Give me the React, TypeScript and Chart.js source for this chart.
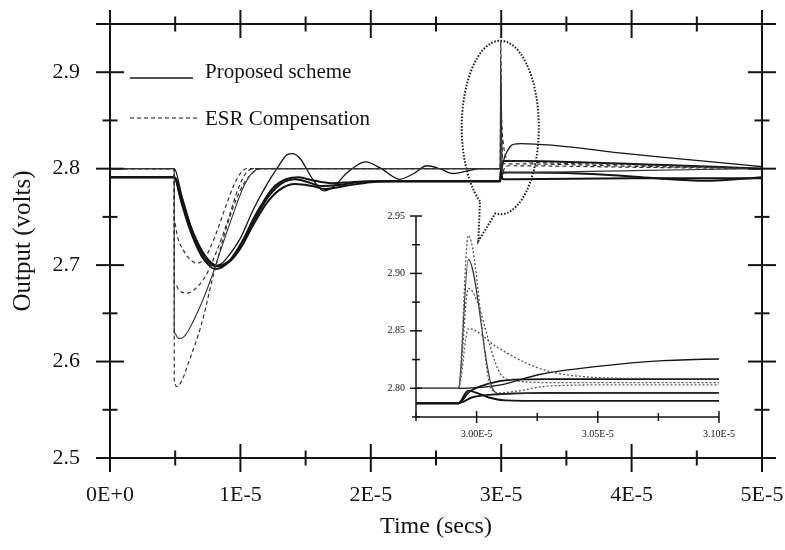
import React, { useEffect, useRef } from 'react';
import { Chart, registerables } from 'chart.js';

Chart.register(...registerables);

const SERIF = "'Liberation Serif', 'Times New Roman', 'DejaVu Serif', serif";
const INK = '#141414';

// ---- data: time in units of 1E-5 s, output in volts ----
const TIME_UNIT = 1e-5;

// Proposed scheme (solid)
const PROPOSED_OSC = [
  [0, 2.8], [0.4925, 2.8], [0.55, 2.772], [0.6, 2.748], [0.65, 2.728], [0.7, 2.713], [0.75, 2.703],
  [0.8, 2.699], [0.85, 2.701], [0.9, 2.708], [1.0, 2.728], [1.1, 2.758], [1.2, 2.783], [1.28, 2.8],
  [1.36, 2.8145], [1.4, 2.8155], [1.46, 2.81], [1.55, 2.79], [1.64, 2.777], [1.72, 2.782], [1.82, 2.796],
  [1.96, 2.807], [2.08, 2.8], [2.22, 2.789], [2.33, 2.795], [2.43, 2.803], [2.53, 2.8], [2.63, 2.795],
  [2.75, 2.798], [2.84, 2.8], [2.9925, 2.8], [3.0, 2.8005], [3.01, 2.803], [3.026, 2.812], [3.05, 2.819],
  [3.077, 2.824], [3.1, 2.8255], [3.15, 2.826], [4.0, 2.815], [4.7, 2.806], [5.0, 2.802],
];
const PROPOSED_A = [
  [0, 2.791], [0.4925, 2.791], [0.55, 2.764], [0.6, 2.742], [0.65, 2.724], [0.7, 2.71], [0.75, 2.701],
  [0.806, 2.696], [0.86, 2.698], [0.92, 2.705], [1.02, 2.726], [1.1, 2.748], [1.15, 2.76], [1.25, 2.78],
  [1.35, 2.789], [1.45, 2.791], [1.55, 2.788], [1.7, 2.785], [1.85, 2.786], [2.0, 2.787], [2.9925, 2.787],
  [2.9965, 2.798], [3.0, 2.796], [3.005, 2.792], [3.012, 2.7895], [3.03, 2.789], [3.1, 2.789],
  [4.0, 2.79], [5.0, 2.79],
];
const PROPOSED_B = [
  [0, 2.791], [0.4925, 2.791], [0.56, 2.766], [0.62, 2.74], [0.7, 2.716], [0.78, 2.702], [0.84, 2.699],
  [0.92, 2.704], [1.02, 2.722], [1.12, 2.75], [1.22, 2.772], [1.32, 2.785], [1.42, 2.789], [1.52, 2.786],
  [1.62, 2.782], [1.75, 2.783], [1.9, 2.786], [2.1, 2.787], [2.9925, 2.787], [2.997, 2.797], [3.005, 2.804],
  [3.015, 2.8075], [3.03, 2.808], [3.1, 2.808], [3.4, 2.8075], [4.2, 2.804], [5.0, 2.8],
];
const PROPOSED_C = [
  [0, 2.791], [0.4925, 2.791], [0.54, 2.77], [0.6, 2.745], [0.68, 2.72], [0.76, 2.704], [0.82, 2.699],
  [0.9, 2.703], [1.0, 2.718], [1.1, 2.742], [1.2, 2.764], [1.3, 2.778], [1.42, 2.784], [1.55, 2.782],
  [1.65, 2.779], [1.8, 2.782], [2.0, 2.786], [2.2, 2.787], [2.9925, 2.787], [2.998, 2.792], [3.01, 2.795],
  [3.03, 2.796], [3.1, 2.796], [3.5, 2.7955], [4.0, 2.792], [4.3, 2.789], [4.58, 2.7875], [4.8, 2.789],
  [5.0, 2.791],
];

// ESR compensation
const ESR_DEEP = [
  [0, 2.8], [0.4925, 2.8], [0.4925, 2.578], [0.51, 2.574], [0.55, 2.58], [0.6, 2.598], [0.7, 2.638],
  [0.79, 2.688], [0.9, 2.742], [1.0, 2.778], [1.08, 2.794], [1.17, 2.8], [2.9925, 2.8], [2.9966, 2.933],
  [3.006, 2.8], [3.009, 2.796], [3.015, 2.797], [3.03, 2.802], [3.06, 2.803], [3.1, 2.803], [4.0, 2.8015],
  [5.0, 2.8],
];
const ESR_SOLID = [
  [0, 2.8], [0.4925, 2.8], [0.4925, 2.63], [0.525, 2.624], [0.56, 2.625], [0.6, 2.632], [0.7, 2.66],
  [0.77, 2.684], [0.85, 2.716], [0.95, 2.755], [1.03, 2.783], [1.1, 2.797], [1.15, 2.8], [2.9925, 2.8],
  [2.9966, 2.912], [3.0065, 2.8], [3.01, 2.795], [3.02, 2.7955], [3.05, 2.796], [3.1, 2.796], [4.0, 2.798],
  [5.0, 2.8],
];
const ESR_MID = [
  [0, 2.8], [0.4925, 2.8], [0.4925, 2.682], [0.53, 2.674], [0.59, 2.671], [0.65, 2.675], [0.73, 2.688],
  [0.82, 2.715], [0.9, 2.745], [0.98, 2.778], [1.04, 2.795], [1.1, 2.8], [2.9925, 2.8], [2.9966, 2.887],
  [3.0097, 2.813], [3.015, 2.807], [3.03, 2.805], [3.1, 2.805], [4.0, 2.8025], [5.0, 2.8],
];
const ESR_SHALLOW = [
  [0, 2.8], [0.4925, 2.8], [0.4925, 2.745], [0.52, 2.728], [0.5626, 2.7155], [0.6, 2.708], [0.665, 2.702],
  [0.72, 2.706], [0.8, 2.728], [0.88, 2.758], [0.95, 2.783], [1.0, 2.795], [1.05, 2.8], [2.9925, 2.8],
  [2.9966, 2.852], [3.0083, 2.836], [3.0207, 2.8217], [3.0304, 2.8145], [3.045, 2.81], [3.07, 2.8085],
  [3.1, 2.808], [4.0, 2.804], [5.0, 2.8],
];

const LEGEND_LABELS = ['Proposed scheme', 'ESR Compensation'];

// axes
const MAIN_X_TICKS = [0, 0.5, 1, 1.5, 2, 2.5, 3, 3.5, 4, 4.5, 5];
const MAIN_X_LABELS = ['0E+0', '', '1E-5', '', '2E-5', '', '3E-5', '', '4E-5', '', '5E-5'];
const MAIN_Y_TICKS = [2.5, 2.55, 2.6, 2.65, 2.7, 2.75, 2.8, 2.85, 2.9, 2.95];
const MAIN_Y_LABELS = ['2.5', '', '2.6', '', '2.7', '', '2.8', '', '2.9', ''];
const INSET_X_TICKS = [2.975, 3.0, 3.025, 3.05, 3.075, 3.1];
const INSET_X_LABELS = ['', '3.00E-5', '', '3.05E-5', '', '3.10E-5'];
const INSET_Y_TICKS = [2.775, 2.8, 2.825, 2.85, 2.875, 2.9, 2.925, 2.95];
const INSET_Y_LABELS = ['', '2.80', '', '2.85', '', '2.90', '', '2.95'];

// callout ellipse around the second load step (time in 1E-5 s, volts)
const CALLOUT_CENTER = [2.993, 2.8427];
const CALLOUT_RADII = [0.2955, 0.09];
const CALLOUT_TAIL = [[2.8396, 2.7672], [2.8243, 2.7248], [2.9547, 2.7538]];

const CURVES = [
  { label: 'ESR Compensation', pts: ESR_DEEP, style: 'dash' },
  { label: 'ESR Compensation', pts: ESR_MID, style: 'dash' },
  { label: 'ESR Compensation', pts: ESR_SHALLOW, style: 'dash' },
  { label: 'ESR Compensation', pts: ESR_SOLID, style: 'thinSolid' },
  { label: 'Proposed scheme', pts: PROPOSED_OSC, style: 'thin' },
  { label: 'Proposed scheme', pts: PROPOSED_C, style: 'thick' },
  { label: 'Proposed scheme', pts: PROPOSED_B, style: 'thick' },
  { label: 'Proposed scheme', pts: PROPOSED_A, style: 'thick' },
];

const toXY = (pts: number[][]) => pts.map(([t, v]) => ({ x: t * TIME_UNIT, y: v }));

function styleFor(style: string, inset: boolean) {
  if (style === 'dash') {
    return inset
      ? { borderColor: '#555', borderWidth: 1.3, borderDash: [2, 2] }
      : { borderColor: '#333', borderWidth: 1.2, borderDash: [4, 3] };
  }
  if (style === 'thinSolid') return { borderColor: '#333', borderWidth: 1.1, borderDash: [] };
  if (style === 'thin') return { borderColor: INK, borderWidth: 1.3, borderDash: [] };
  return { borderColor: INK, borderWidth: inset ? 1.9 : 2.0, borderDash: [] };
}

function buildDatasets(inset: boolean) {
  return CURVES.map((c) => ({
    label: c.label,
    data: toXY(c.pts),
    ...styleFor(c.style, inset),
    backgroundColor: 'transparent',
    pointRadius: 0,
    fill: false,
    cubicInterpolationMode: 'monotone' as const,
  }));
}

const framePlugin = {
  id: 'frame',
  afterDraw(chart: any, _args: any, opts: any) {
    const { ctx, chartArea: a, scales } = chart;
    const xs = scales.x;
    const ys = scales.y;
    const line = (x1: number, y1: number, x2: number, y2: number) => {
      ctx.beginPath();
      ctx.moveTo(x1, y1);
      ctx.lineTo(x2, y2);
      ctx.stroke();
    };
    ctx.save();
    ctx.strokeStyle = INK;
    ctx.lineWidth = opts.lineWidth;
    const e = opts.extend;
    const sides: string[] = opts.sides;
    if (sides.includes('left')) line(a.left, a.top - e, a.left, a.bottom + e);
    if (sides.includes('right')) line(a.right, a.top - e, a.right, a.bottom + e);
    if (sides.includes('bottom')) line(a.left - e, a.bottom, a.right + e, a.bottom);
    if (sides.includes('top')) line(a.left - e, a.top, a.right + e, a.top);
    ctx.lineWidth = opts.tickWidth;
    xs.ticks.forEach((t: any, i: number) => {
      const px = xs.getPixelForTick(i);
      const len = t.label ? opts.major : opts.minor;
      if (sides.includes('bottom')) line(px, a.bottom - len, px, a.bottom + len);
      if (sides.includes('top')) line(px, a.top - len, px, a.top + len);
    });
    ys.ticks.forEach((t: any, i: number) => {
      const py = ys.getPixelForTick(i);
      const len = t.label ? opts.major : opts.minor;
      if (sides.includes('left')) line(a.left - len, py, a.left + len, py);
      if (sides.includes('right')) line(a.right - len, py, a.right + len, py);
    });
    ctx.restore();
  },
};

const legendPlugin = {
  id: 'cornerLegend',
  afterDraw(chart: any, _args: any, opts: any) {
    const { ctx, chartArea: a } = chart;
    LEGEND_LABELS.forEach((label, i) => {
      const ds = chart.data.datasets.find((d: any) => d.label === label);
      if (!ds) return;
      const base = a.top + opts.baselines[i];
      ctx.save();
      ctx.strokeStyle = INK;
      ctx.lineWidth = ds.borderWidth;
      ctx.setLineDash(ds.borderDash || []);
      ctx.beginPath();
      ctx.moveTo(a.left + opts.lineStart, base + opts.lineOffsets[i]);
      ctx.lineTo(a.left + opts.lineEnds[i], base + opts.lineOffsets[i]);
      ctx.stroke();
      ctx.setLineDash([]);
      ctx.fillStyle = INK;
      ctx.font = `21px ${SERIF}`;
      ctx.textBaseline = 'alphabetic';
      ctx.textAlign = 'left';
      ctx.fillText(label, a.left + opts.textX, base);
      ctx.restore();
    });
  },
};

const calloutPlugin = {
  id: 'callout',
  afterDatasetsDraw(chart: any) {
    const { ctx, scales } = chart;
    const xs = scales.x;
    const ys = scales.y;
    const px = (t: number) => xs.getPixelForValue(t * TIME_UNIT);
    const py = (v: number) => ys.getPixelForValue(v);
    const cx = px(CALLOUT_CENTER[0]);
    const cy = py(CALLOUT_CENTER[1]);
    const rx = Math.abs(px(CALLOUT_CENTER[0] + CALLOUT_RADII[0]) - cx);
    const ry = Math.abs(py(CALLOUT_CENTER[1] + CALLOUT_RADII[1]) - cy);
    const ang = (p: number[]) => Math.atan2((py(p[1]) - cy) / ry, (px(p[0]) - cx) / rx);
    const [left, tip, right] = CALLOUT_TAIL;
    const a1 = ang(left);
    let a2 = ang(right);
    while (a2 <= a1) a2 += Math.PI * 2;
    ctx.save();
    ctx.strokeStyle = '#222';
    ctx.lineWidth = 2;
    ctx.setLineDash([1.6, 1.6]);
    ctx.beginPath();
    ctx.ellipse(cx, cy, rx, ry, 0, a1, a2, false);
    ctx.lineTo(px(tip[0]), py(tip[1]));
    ctx.lineTo(cx + rx * Math.cos(a1), cy + ry * Math.sin(a1));
    ctx.stroke();
    ctx.restore();
  },
};

function axisTicks(values: number[], labels: string[], scaleFactor: number) {
  return {
    afterBuildTicks: (s: any) => {
      s.ticks = values.map((v) => ({ value: v * scaleFactor }));
    },
    callback: (_v: any, i: number) => labels[i],
  };
}

const fitX = (h: number) => (s: any) => {
  s.height = h;
  s.paddingLeft = 0;
  s.paddingRight = 0;
};
const fitY = (w: number) => (s: any) => {
  s.width = w;
  s.paddingTop = 0;
  s.paddingBottom = 0;
};

export default function App() {
  const mainRef = useRef<HTMLCanvasElement>(null);
  const insetRef = useRef<HTMLCanvasElement>(null);

  useEffect(() => {
    const mx = axisTicks(MAIN_X_TICKS, MAIN_X_LABELS, TIME_UNIT);
    const my = axisTicks(MAIN_Y_TICKS, MAIN_Y_LABELS, 1);
    const main = new Chart(mainRef.current as HTMLCanvasElement, {
      type: 'line',
      data: { datasets: buildDatasets(false) as any },
      plugins: [calloutPlugin, framePlugin, legendPlugin],
      options: {
        animation: false,
        responsive: false,
        devicePixelRatio: 1,
        layout: { padding: { top: 24, right: 23, left: 0, bottom: 0 } },
        plugins: {
          legend: { display: false },
          tooltip: { enabled: false },
          frame: { sides: ['left', 'right', 'top', 'bottom'], lineWidth: 2, tickWidth: 2, major: 14, minor: 7.5, extend: 14 },
          cornerLegend: { baselines: [54, 101], lineOffsets: [0, -7], lineStart: 20, lineEnds: [83, 87], textX: 95 },
        } as any,
        scales: {
          x: {
            type: 'linear',
            min: 0,
            max: 5 * TIME_UNIT,
            afterBuildTicks: mx.afterBuildTicks,
            afterFit: fitX(92),
            grid: { display: false, drawTicks: false },
            border: { display: false },
            ticks: { autoSkip: false, maxRotation: 0, padding: 24, color: INK, font: { family: SERIF, size: 22 }, callback: mx.callback },
            title: { display: true, text: 'Time (secs)', color: INK, font: { family: SERIF, size: 24 }, padding: { top: 0, bottom: 9 } },
          },
          y: {
            type: 'linear',
            min: 2.5,
            max: 2.95,
            afterBuildTicks: my.afterBuildTicks,
            afterFit: fitY(110),
            grid: { display: false, drawTicks: false },
            border: { display: false },
            ticks: { autoSkip: false, padding: 30, color: INK, font: { family: SERIF, size: 22 }, callback: my.callback },
            title: { display: true, text: 'Output (volts)', color: INK, font: { family: SERIF, size: 25 }, padding: { top: 8, bottom: 0 } },
          },
        },
      } as any,
    });

    const ix = axisTicks(INSET_X_TICKS, INSET_X_LABELS, TIME_UNIT);
    const iy = axisTicks(INSET_Y_TICKS, INSET_Y_LABELS, 1);
    const inset = new Chart(insetRef.current as HTMLCanvasElement, {
      type: 'line',
      data: { datasets: buildDatasets(true) as any },
      plugins: [framePlugin],
      options: {
        animation: false,
        responsive: false,
        devicePixelRatio: 1,
        layout: { padding: { top: 16, right: 21, left: 0, bottom: 0 } },
        plugins: {
          legend: { display: false },
          tooltip: { enabled: false },
          frame: { sides: ['left', 'bottom'], lineWidth: 1.5, tickWidth: 1.5, major: 6, minor: 4, extend: 0 },
        } as any,
        scales: {
          x: {
            type: 'linear',
            min: 2.975 * TIME_UNIT,
            max: 3.1 * TIME_UNIT,
            afterBuildTicks: ix.afterBuildTicks,
            afterFit: fitX(33),
            grid: { display: false, drawTicks: false },
            border: { display: false },
            ticks: { autoSkip: false, maxRotation: 0, padding: 11, color: INK, font: { family: SERIF, size: 10 }, callback: ix.callback },
          },
          y: {
            type: 'linear',
            min: 2.775,
            max: 2.95,
            afterBuildTicks: iy.afterBuildTicks,
            afterFit: fitY(46),
            grid: { display: false, drawTicks: false },
            border: { display: false },
            ticks: { autoSkip: false, padding: 11, color: INK, font: { family: SERIF, size: 10 }, callback: iy.callback },
          },
        },
      } as any,
    });

    return () => {
      main.destroy();
      inset.destroy();
    };
  }, []);

  return (
    <div style={{ position: 'absolute', left: 0, top: 0, width: 785, height: 550, background: '#fff' }}>
      <canvas ref={mainRef} width={785} height={550} style={{ position: 'absolute', left: 0, top: 0, width: 785, height: 550 }} />
      <canvas ref={insetRef} width={370} height={250} style={{ position: 'absolute', left: 370, top: 200, width: 370, height: 250 }} />
    </div>
  );
}
